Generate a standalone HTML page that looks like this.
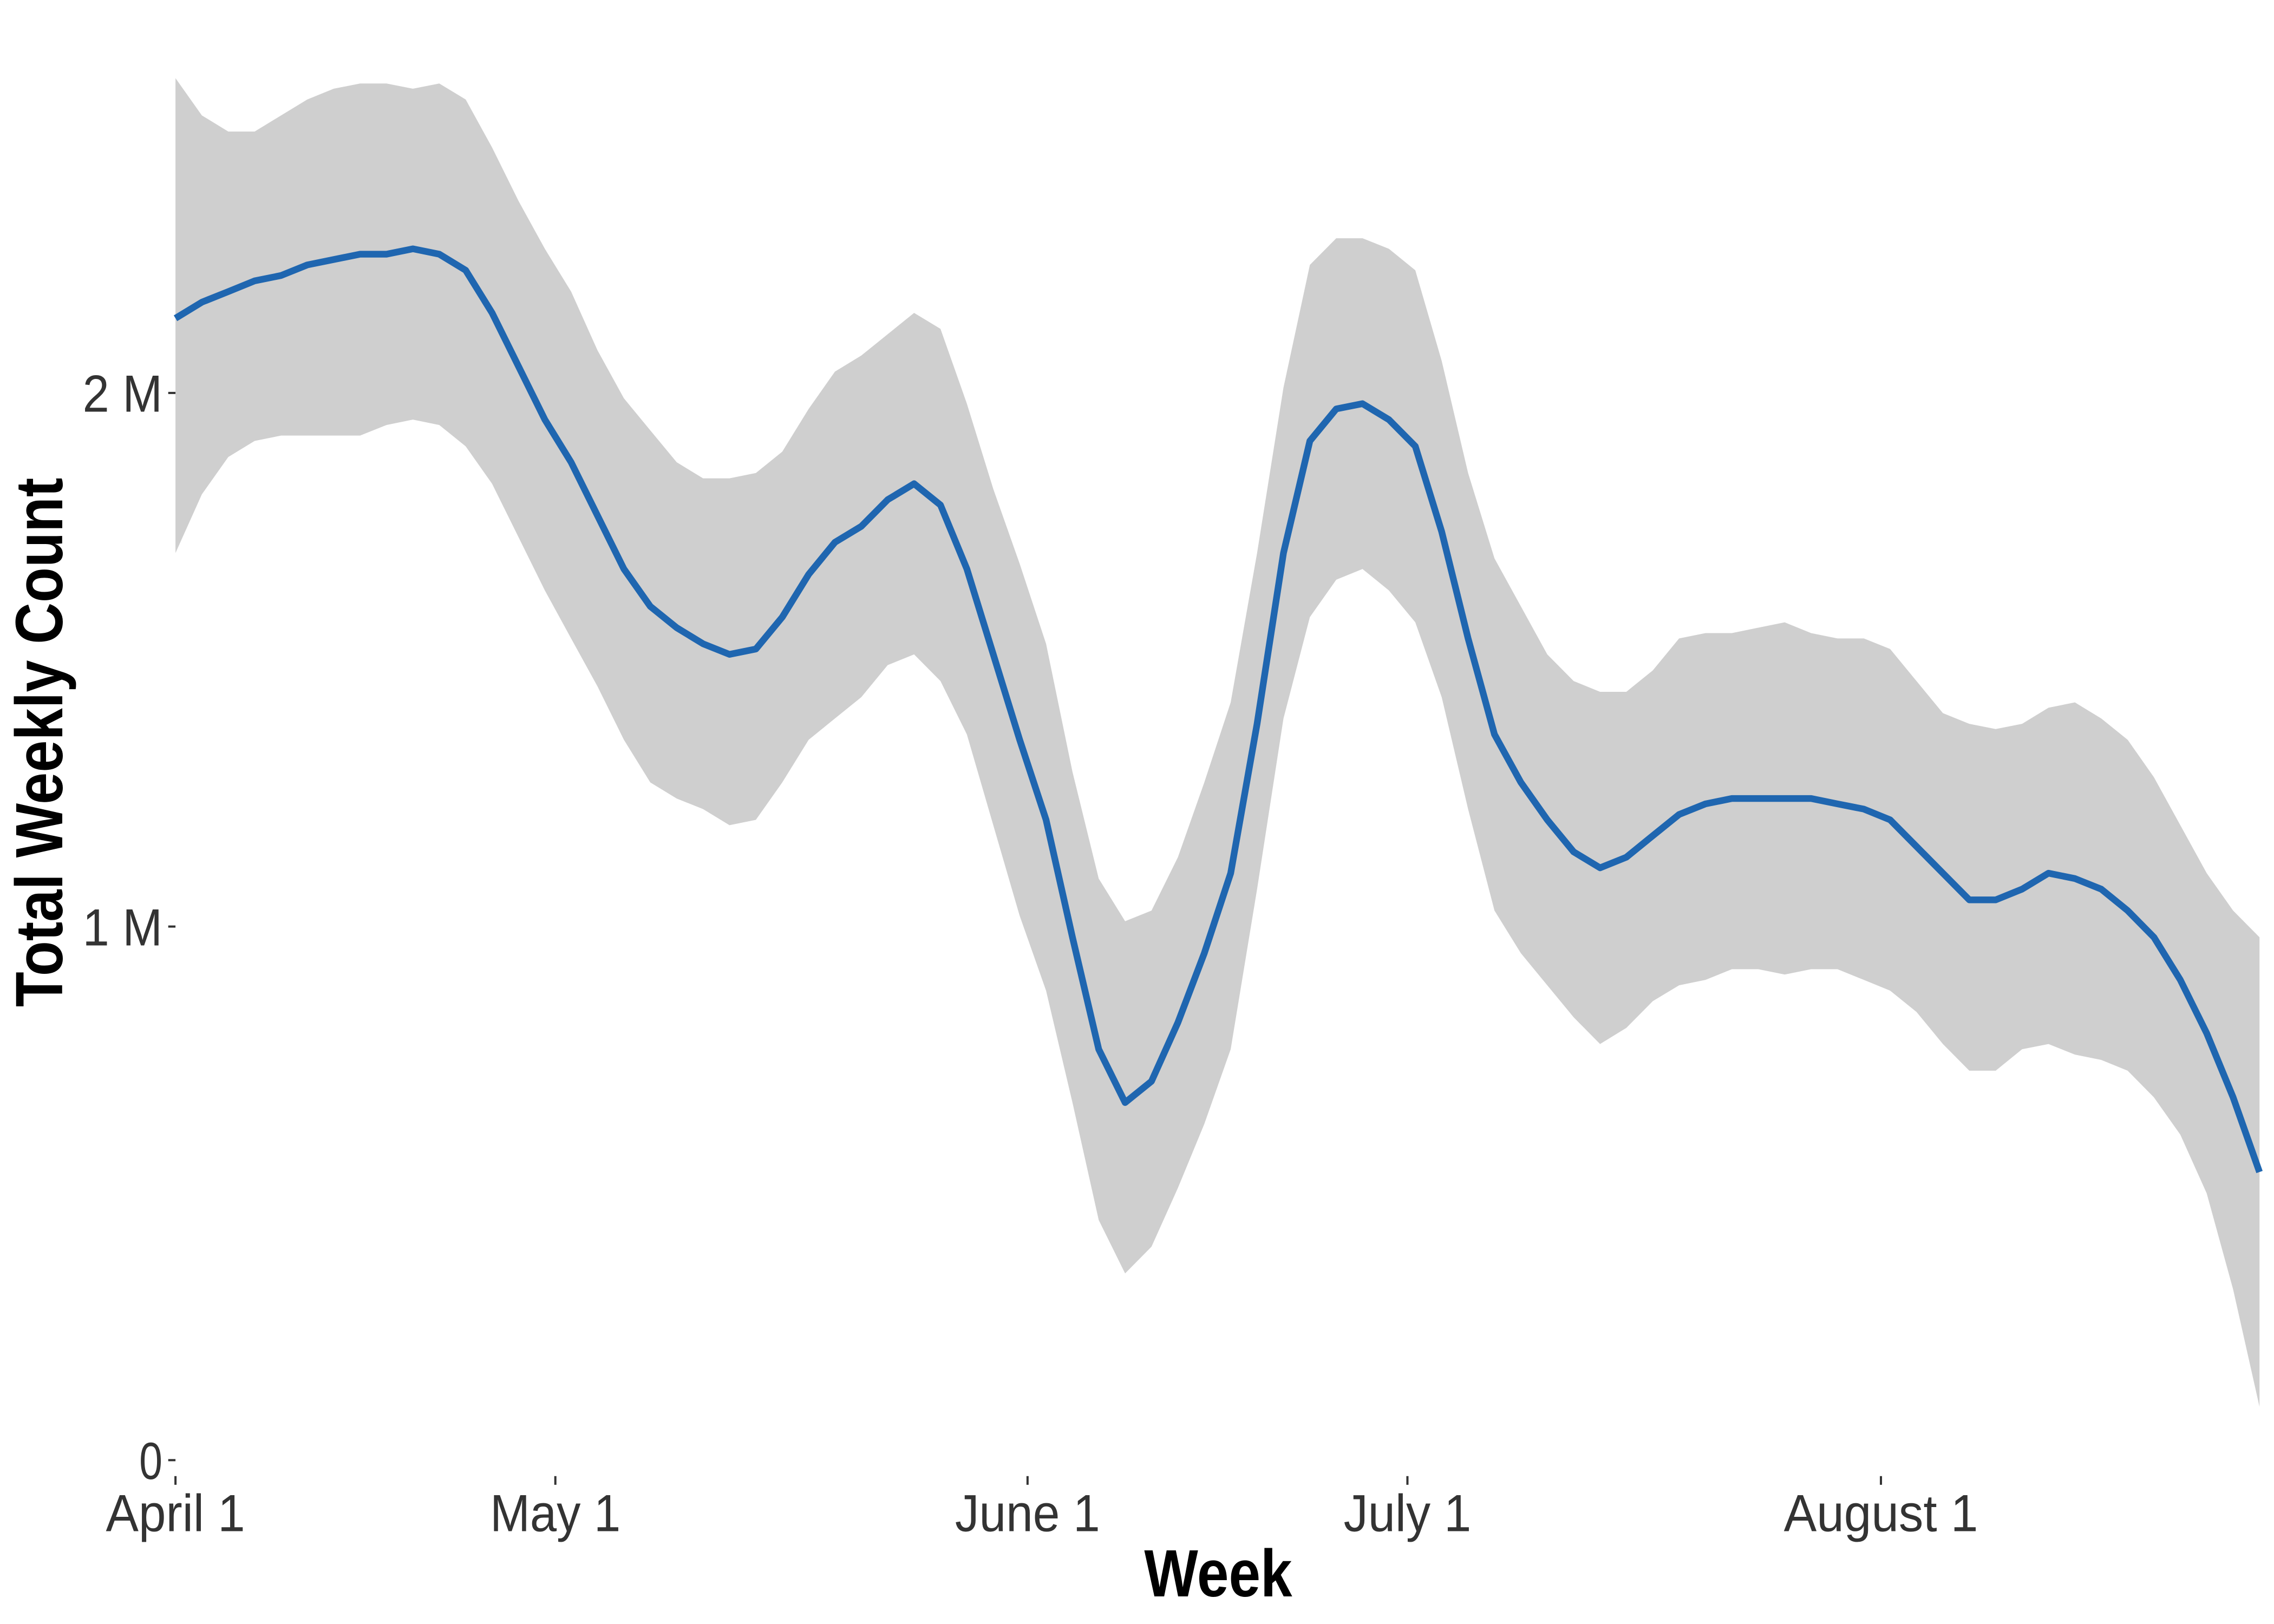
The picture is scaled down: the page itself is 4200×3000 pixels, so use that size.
<!DOCTYPE html>
<html>
<head>
<meta charset="utf-8">
<style>
html,body{margin:0;padding:0;background:#fff;}
svg{display:block;}
text{font-family:"Liberation Sans Narrow","Liberation Sans",sans-serif;}
</style>
</head>
<body>
<svg id="chart" width="4200" height="3000" viewBox="0 0 1568 1120" xmlns="http://www.w3.org/2000/svg">
  <g id="band"></g>
  <g id="line"></g>
  <g id="yaxis"></g>
  <g id="xaxis"></g>
  <text x="840" y="1101" text-anchor="middle" font-size="46" font-weight="bold" fill="#000" textLength="102" lengthAdjust="spacingAndGlyphs">Week</text>
  <text transform="translate(43,512) rotate(-90)" text-anchor="middle" font-size="46" font-weight="bold" fill="#000" textLength="365" lengthAdjust="spacingAndGlyphs">Total Weekly Count</text>
</svg>
<script>
const meanValues = [2.14,2.17,2.19,2.21,2.22,2.24,2.25,2.26,2.26,2.27,2.26,2.23,2.15,2.05,1.95,1.87,1.77,1.67,1.60,1.56,1.53,1.51,1.52,1.58,1.66,1.72,1.75,1.80,1.83,1.79,1.67,1.51,1.35,1.20,0.98,0.77,0.67,0.71,0.82,0.95,1.10,1.38,1.70,1.91,1.97,1.98,1.95,1.90,1.74,1.54,1.36,1.27,1.20,1.14,1.11,1.13,1.17,1.21,1.23,1.24,1.24,1.24,1.24,1.23,1.22,1.20,1.15,1.10,1.05,1.05,1.07,1.10,1.09,1.07,1.03,0.98,0.90,0.80,0.68,0.54];
const upperValues = [2.59,2.52,2.49,2.49,2.52,2.55,2.57,2.58,2.58,2.57,2.58,2.55,2.46,2.36,2.27,2.19,2.08,1.99,1.93,1.87,1.84,1.84,1.85,1.89,1.97,2.04,2.07,2.11,2.15,2.12,1.98,1.82,1.68,1.53,1.29,1.09,1.01,1.03,1.13,1.27,1.42,1.70,2.01,2.24,2.29,2.29,2.27,2.23,2.06,1.85,1.69,1.60,1.51,1.46,1.44,1.44,1.48,1.54,1.55,1.55,1.56,1.57,1.55,1.54,1.54,1.52,1.46,1.40,1.38,1.37,1.38,1.41,1.42,1.39,1.35,1.28,1.19,1.10,1.03,0.98];
const lowerValues = [1.70,1.81,1.88,1.91,1.92,1.92,1.92,1.92,1.94,1.95,1.94,1.90,1.83,1.73,1.63,1.54,1.45,1.35,1.27,1.24,1.22,1.19,1.20,1.27,1.35,1.39,1.43,1.49,1.51,1.46,1.36,1.19,1.02,0.88,0.67,0.45,0.35,0.40,0.51,0.63,0.77,1.07,1.39,1.58,1.65,1.67,1.63,1.57,1.43,1.22,1.03,0.95,0.89,0.83,0.78,0.81,0.86,0.89,0.90,0.92,0.92,0.91,0.92,0.92,0.90,0.88,0.84,0.78,0.73,0.73,0.77,0.78,0.76,0.75,0.73,0.68,0.61,0.50,0.32,0.10];
const yTickValues = [0,1,2];
const yTickLabels = ["0","1 M","2 M"];
const xTickIndex = [0,14.4,32.3,46.7,64.65];
const xTickLabels = ["April 1","May 1","June 1","July 1","August 1"];
const yLabelWidths = [16,55,55];
const xLabelWidths = [96,90,100,88,134];

const NS = "http://www.w3.org/2000/svg";
const X0 = 121, X1 = 1558, Y0 = 1007, PXM = 368;
const n = meanValues.length;
function xs(i){ return X0 + i*(X1-X0)/(n-1); }
function ys(v){ return Y0 - v*PXM; }

let d = "";
for(let i=0;i<n;i++) d += (i?"L":"M") + xs(i).toFixed(1) + "," + ys(upperValues[i]).toFixed(1);
for(let i=n-1;i>=0;i--) d += "L" + xs(i).toFixed(1) + "," + ys(lowerValues[i]).toFixed(1);
d += "Z";
const band = document.createElementNS(NS,"path");
band.setAttribute("d", d);
band.setAttribute("fill", "#cfcfcf");


document.getElementById("band").appendChild(band);

let ld = "";
for(let i=0;i<n;i++) ld += (i?"L":"M") + xs(i).toFixed(1) + "," + ys(meanValues[i]).toFixed(1);
const line = document.createElementNS(NS,"path");
line.setAttribute("d", ld);
line.setAttribute("fill", "none");
line.setAttribute("stroke", "#1f66b0");
line.setAttribute("stroke-width", "4.6");
line.setAttribute("stroke-linejoin", "round");


document.getElementById("line").appendChild(line);

const yg = document.getElementById("yaxis");
yTickValues.forEach((v,k)=>{
  const y = ys(v);
  const t = document.createElementNS(NS,"line");
  t.setAttribute("x1",116); t.setAttribute("x2",121);
  t.setAttribute("y1",y); t.setAttribute("y2",y);
  t.setAttribute("stroke","#333"); t.setAttribute("stroke-width","1.5");
  
  
  yg.appendChild(t);
  const tx = document.createElementNS(NS,"text");
  tx.setAttribute("x",112); tx.setAttribute("y",y+13);
  tx.setAttribute("text-anchor","end");
  tx.setAttribute("font-size","36");
  tx.setAttribute("fill","#333");
  tx.setAttribute("textLength", yLabelWidths[k]);
  tx.setAttribute("lengthAdjust","spacingAndGlyphs");
  tx.textContent = yTickLabels[k];
  
  
  yg.appendChild(tx);
});

const xg = document.getElementById("xaxis");
xTickIndex.forEach((ix,k)=>{
  const x = xs(ix);
  const t = document.createElementNS(NS,"line");
  t.setAttribute("x1",x); t.setAttribute("x2",x);
  t.setAttribute("y1",1018); t.setAttribute("y2",1024);
  t.setAttribute("stroke","#333"); t.setAttribute("stroke-width","1.5");
  
  
  xg.appendChild(t);
  const tx = document.createElementNS(NS,"text");
  tx.setAttribute("x",x); tx.setAttribute("y",1056);
  tx.setAttribute("text-anchor","middle");
  tx.setAttribute("font-size","36");
  tx.setAttribute("fill","#333");
  tx.setAttribute("textLength", xLabelWidths[k]);
  tx.setAttribute("lengthAdjust","spacingAndGlyphs");
  tx.textContent = xTickLabels[k];
  
  
  xg.appendChild(tx);
});
</script>
</body>
</html>
